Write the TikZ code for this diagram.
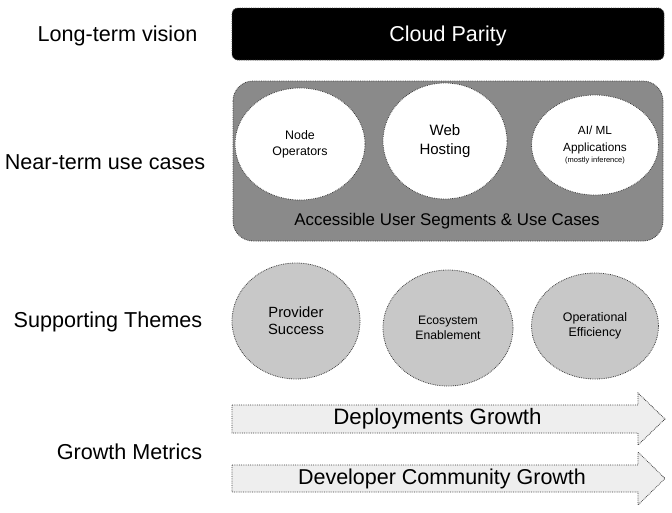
\documentclass[tikz,border=0pt]{standalone}
\usepackage{fontspec}
\setmainfont{Liberation Sans}
\usetikzlibrary{shapes.geometric}
\definecolor{midgray}{HTML}{8A8A8A}
\definecolor{themegray}{HTML}{C8C8C8}
\definecolor{palegray}{HTML}{EEEEEE}
\definecolor{bordergray}{HTML}{3C3C3C}
\begin{document}
\begin{tikzpicture}[x=1pt,y=-1pt,
  dotb/.style={draw=bordergray, densely dotted, line width=0.8pt},
  lbl/.style={font=\fontsize{21.6}{24}\selectfont, anchor=center, inner sep=0pt},
  ell/.style={ellipse, dotb, inner sep=0pt, align=center},
  usecase/.style={ell, fill=white},
  theme/.style={ell, fill=themegray},
]
\useasboundingbox (0,0) rectangle (672,512);

% left labels
\node[lbl] (l1) at (117.5,35.5) {Long-term vision};
\node[lbl] (l2) at (105,162.5) {Near-term use cases};
\node[lbl] (l3) at (108,321.5) {Supporting Themes};
\node[lbl] (l4) at (129.5,451.5) {Growth Metrics};

% Cloud parity
\draw[dotb, fill=black, rounded corners=6pt] (232,8) rectangle (664,60);
\node[text=white, font=\fontsize{21.5}{24}\selectfont, inner sep=0pt] (cp) at (448,35.5) {Cloud Parity};

% Near-term box
\draw[dotb, fill=midgray, rounded corners=20pt] (233,81) rectangle (663,241);
\node[font=\fontsize{16.9}{20}\selectfont, inner sep=0pt] (aus) at (447,221) {Accessible User Segments \& Use Cases};

\node[usecase, minimum width=130pt, minimum height=112pt, font=\fontsize{12.4}{16}\selectfont] (no) at (300,144) {Node\\Operators};
\node[usecase, minimum width=124pt, minimum height=116pt, font=\fontsize{15}{19}\selectfont] (wh) at (445,141) {Web\\Hosting};
\node[usecase, minimum width=127pt, minimum height=100pt, font=\fontsize{11.8}{16.5}\selectfont] (ai) at (595,145) {AI/ ML\\Applications\\[-5pt]{\fontsize{7.5}{9}\selectfont (mostly inference)}};

% Supporting themes
\node[theme, minimum width=128pt, minimum height=116pt, font=\fontsize{14.8}{17}\selectfont] (ps) at (296,321) {Provider\\Success};
\node[theme, minimum width=130pt, minimum height=116pt, font=\fontsize{12.2}{15}\selectfont] (ee) at (448,328) {Ecosystem\\Enablement};
\node[theme, minimum width=127pt, minimum height=106pt, font=\fontsize{12.4}{15}\selectfont] (oe) at (595,326) {Operational\\Efficiency};

% Growth arrows
\draw[dotb, fill=palegray] (232,405) -- (638,405) -- (638,393) -- (665,419) -- (638,445) -- (638,433) -- (232,433) -- cycle;
\node[font=\fontsize{22.3}{24}\selectfont, inner sep=0pt] (dg) at (437.5,419) {Deployments Growth};
\draw[dotb, fill=palegray] (232,465) -- (638,465) -- (638,452) -- (665,478.5) -- (638,505) -- (638,492) -- (232,492) -- cycle;
\node[font=\fontsize{21.5}{24}\selectfont, inner sep=0pt] (dcg) at (442,479) {Developer Community Growth};
\end{tikzpicture}
\end{document}
